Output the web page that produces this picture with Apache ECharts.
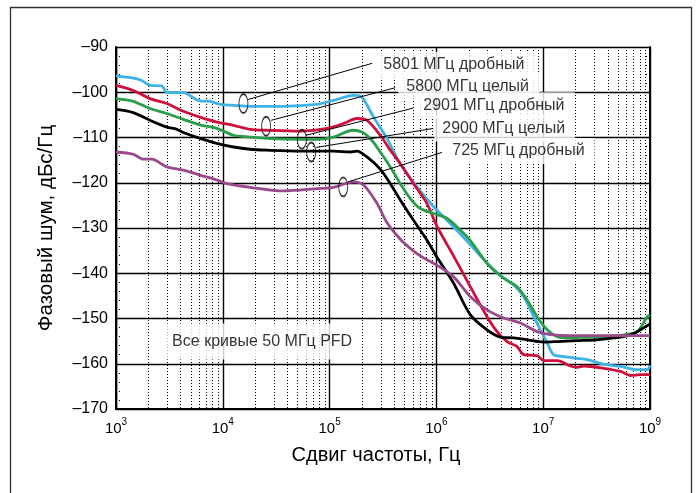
<!DOCTYPE html>
<html>
<head>
<meta charset="utf-8">
<script src="https://cdn.jsdelivr.net/npm/echarts@6/dist/echarts.min.js"></script>
<style>
html,body{margin:0;padding:0;background:#fff;}
#chart{width:698px;height:493px;}
</style>
</head>
<body>
<div id="chart"></div>
<script>
// ---- tick labels ----
const xTickValues = [1e3, 1e4, 1e5, 1e6, 1e7, 1e8];
const xTickExp = ['3', '4', '5', '6', '7', '9'];
const yMin = -170, yMax = -90, yStep = 10;

// ---- series names ----
const seriesNames = ['5801 МГц дробный', '5800 МГц целый', '2901 МГц дробный', '2900 МГц целый', '725 МГц дробный'];
const seriesColors = ['#3fb2e6', '#cf0f3c', '#2a9e4a', '#000000', '#9a4a8c'];

// ---- series values [frequency offset Hz, dBc/Hz] ----
const s5801 = [[1000,-96.4],[1450,-96.9],[1740,-97.4],[2080,-98.5],[2680,-98.6],[2990,-100.0],[4270,-100.1],[6120,-101.9],[7600,-102.0],[9440,-102.7],[12600,-102.9],[18000,-103.1],[37000,-103.1],[76000,-102.7],[109000,-101.8],[168000,-100.7],[201000,-101.1],[258000,-105.5],[344000,-110.2],[459000,-115.8],[658000,-120.9],[942000,-125.3],[1.26e6,-128.3],[2.08e6,-133.7],[2.98e6,-137.8],[3.70e6,-140.0],[5.30e6,-142.6],[6.57e6,-145.2],[8.15e6,-149.6],[9.42e6,-152.5],[1.09e7,-155.4],[1.25e7,-158.0],[1.56e7,-158.4],[2.08e7,-158.8],[2.58e7,-159.1],[3.69e7,-160.1],[5.30e7,-160.6],[7.59e7,-161.3],[9.42e7,-161.3],[1e8,-160.4]];
const s5800 = [[1000,-98.5],[1450,-99.6],[2080,-101.4],[2990,-102.5],[4270,-104.2],[6120,-105.5],[8790,-106.6],[12600,-107.3],[18000,-108.2],[25800,-108.4],[53000,-108.6],[94400,-108.0],[135000,-106.9],[180000,-105.8],[224000,-106.2],[298000,-109.5],[370000,-112.8],[459000,-115.8],[611000,-120.2],[816000,-124.6],[1.01e6,-129.6],[1.45e6,-136.2],[2.08e6,-143.0],[2.98e6,-149.6],[3.70e6,-152.9],[4.59e6,-155.1],[5.69e6,-156.2],[6.57e6,-158.0],[8.77e6,-158.2],[1.01e7,-159.3],[1.35e7,-159.3],[1.80e7,-160.5],[2.08e7,-160.8],[2.40e7,-160.5],[3.69e7,-161.0],[5.30e7,-161.7],[6.57e7,-162.6],[8.15e7,-162.4],[1e8,-162.4]];
const s2901 = [[1000,-101.4],[1450,-102.0],[2080,-103.6],[2990,-104.7],[4270,-106.0],[6120,-107.2],[8790,-108.0],[12600,-109.5],[18000,-109.9],[25800,-110.2],[53000,-110.4],[76000,-110.4],[109000,-109.9],[164000,-108.4],[201000,-108.8],[248000,-110.6],[298000,-113.2],[370000,-116.5],[459000,-120.2],[569000,-123.5],[706000,-125.7],[942000,-126.8],[1.26e6,-127.9],[1.68e6,-130.5],[2.08e6,-132.8],[2.98e6,-137.8],[4.27e6,-141.1],[5.69e6,-143.0],[7.06e6,-145.9],[8.77e6,-149.6],[1.09e7,-152.5],[1.35e7,-154.0],[1.80e7,-154.3],[2.58e7,-154.1],[3.69e7,-154.0],[5.69e7,-153.6],[7.59e7,-152.9],[9.42e7,-149.6],[1e8,-149.2]];
const s2900 = [[1000,-103.8],[1450,-104.5],[2080,-106.2],[2990,-107.7],[3710,-108.2],[4270,-108.9],[6120,-110.2],[8790,-111.3],[12600,-112.1],[18000,-112.6],[25800,-112.8],[53000,-113.0],[109000,-113.0],[156000,-113.2],[180000,-113.0],[224000,-114.3],[298000,-117.0],[370000,-120.2],[459000,-123.8],[611000,-128.3],[816000,-132.7],[1.01e6,-136.4],[1.45e6,-142.2],[2.08e6,-149.2],[2.98e6,-152.5],[3.97e6,-154.1],[5.30e6,-154.3],[7.06e6,-154.7],[1.01e7,-155.2],[1.35e7,-155.1],[2.08e7,-154.9],[3.20e7,-154.7],[4.58e7,-154.3],[6.57e7,-153.6],[8.15e7,-152.5],[1e8,-151.2]];
const s725 = [[1000,-113.2],[1450,-113.7],[1800,-114.8],[2160,-114.8],[2990,-116.5],[4270,-117.2],[6120,-118.3],[8790,-119.4],[10900,-120.2],[18000,-121.0],[37000,-121.8],[76000,-121.3],[109000,-121.0],[168000,-119.8],[208000,-120.5],[277000,-124.5],[344000,-128.8],[459000,-132.5],[611000,-135.1],[759000,-136.6],[1.01e6,-138.2],[1.45e6,-140.8],[2.08e6,-145.2],[2.98e6,-148.1],[4.27e6,-149.9],[6.11e6,-151.0],[8.77e6,-152.9],[1.25e7,-153.6],[2.58e7,-153.8],[5.30e7,-153.8],[1e8,-153.8]];
const seriesData = [s5801, s5800, s2901, s2900, s725];

// ---- annotations (data coordinates) ----
const ellipsePts = [[15600,-102.5],[25450,-107.5],[55000,-110.4],[67250,-113.2],[134100,-120.9]];
const leaderStart = [[17270,-101.6],[28360,-106.2],[60360,-109.5],[74850,-112.2],[149400,-119.8]];
const leaderEnd = [[250700,-93.6],[411900,-99.0],[607300,-103.5],[935000,-108.0],[1128000,-113.3]];
const labelPts = [[317900,-93.9],[522300,-98.7],[753800,-102.9],[1136000,-108.0],[1409000,-113.0]];
const noteText = 'Все кривые 50 МГц PFD';
const notePt = [23350, -155.1];

const xName = 'Сдвиг частоты, Гц';
const yName = 'Фазовый шум, дБс/Гц';

// minor decade gridlines 2..9 x 10^n
const minorFreqs = [];
for (let e = 3; e < 8; e++) for (let k = 2; k <= 9; k++) minorFreqs.push([k * Math.pow(10, e)]);

const FONT = '"Liberation Sans", Arial, sans-serif';

const chart = echarts.init(document.getElementById('chart'), null, {renderer: 'canvas'});

const series = [];
series.push({
  type: 'custom',
  z: 1,
  silent: true,
  data: minorFreqs,
  encode: {x: 0},
  renderItem: function (params, api) {
    const f = api.value(0);
    const p1 = api.coord([f, yMax]);
    const p2 = api.coord([f, yMin]);
    const x = Math.round(p1[0]) + 0.5;
    return {type: 'line', shape: {x1: x, y1: p1[1], x2: x, y2: p2[1]},
      style: {stroke: '#000', lineWidth: 1, lineDash: [1, 2]}};
  }
});
seriesData.forEach(function (d, i) {
  series.push({
    name: seriesNames[i], type: 'line', data: d, z: 3,
    showSymbol: false, smooth: 0.3, silent: true,
    lineStyle: {color: seriesColors[i], width: 2.8},
    itemStyle: {color: seriesColors[i]}
  });
});
leaderStart.forEach(function (p, i) {
  series.push({
    type: 'line', data: [p, leaderEnd[i]], z: 4, silent: true, showSymbol: false,
    lineStyle: {color: '#000', width: 1}
  });
});
series.push({
  type: 'scatter', z: 4, silent: true, data: ellipsePts,
  symbol: 'circle', symbolSize: [9, 19],
  itemStyle: {color: 'rgba(0,0,0,0)', borderColor: '#000', borderWidth: 1.3}
});
series.push({
  type: 'scatter', z: 6, silent: true, symbolSize: 0,
  data: labelPts.map(function (p, i) { return {value: p, name: seriesNames[i]}; }),
  label: {
    show: true, position: 'right', distance: 0, offset: [-8, 0],
    formatter: '{b}', color: '#000', fontFamily: FONT, fontSize: 16,
    backgroundColor: '#fff', padding: [5, 10, 5, 8]
  }
});
series.push({
  type: 'scatter', z: 6, silent: true, symbolSize: 0,
  data: [{value: notePt, name: noteText}],
  label: {
    show: true, position: 'inside',
    formatter: '{b}', color: '#000', fontFamily: FONT, fontSize: 16,
    backgroundColor: '#fff', padding: [11, 5, 9, 5]
  }
});

function xLabel(v) {
  const e = Math.round(Math.log10(v));
  let idx = -1;
  for (let i = 0; i < xTickValues.length; i++) if (Math.round(Math.log10(xTickValues[i])) === e) idx = i;
  if (idx < 0) return '';
  return '{b|10}{s|' + xTickExp[idx] + '}';
}

const yAxisCommon = {
  type: 'value', min: yMin, max: yMax, interval: yStep,
  axisLine: {show: true, lineStyle: {color: '#000', width: 2}},
  axisTick: {show: false, inside: true},
  minorTick: {show: true, splitNumber: 5, length: 5, lineStyle: {color: '#000', width: 1, type: [1, 2]}},
  splitLine: {show: false}
};

chart.setOption({
  animation: false,
  backgroundColor: '#fff',
  grid: {left: 116, right: 48, top: 47, bottom: 84, show: false},
  graphic: [{
    type: 'rect', z: 0, silent: true,
    shape: {x: 10.5, y: 7.5, width: 681, height: 500},
    style: {fill: 'none', stroke: '#333', lineWidth: 1.3}
  }],
  xAxis: {
    type: 'log', logBase: 10, min: 1e3, max: 1e8,
    name: xName, nameLocation: 'middle', nameGap: 36,
    nameTextStyle: {color: '#000', fontFamily: FONT, fontSize: 20, padding: [0, 14, 0, 0]},
    axisLine: {show: true, onZero: false, lineStyle: {color: '#000', width: 2}},
    axisTick: {show: false},
    axisLabel: {
      margin: 8, color: '#000', formatter: xLabel,
      rich: {
        b: {fontFamily: FONT, fontSize: 15, color: '#000', lineHeight: 19, verticalAlign: 'bottom'},
        s: {fontFamily: FONT, fontSize: 10, color: '#000', lineHeight: 19, verticalAlign: 'top'}
      }
    },
    splitLine: {show: true, lineStyle: {color: '#000', width: 1.4}},
    minorTick: {show: false}
  },
  yAxis: [
    Object.assign({}, yAxisCommon, {
      position: 'left',
      name: yName, nameLocation: 'middle', nameGap: 59, nameRotate: 90,
      nameTextStyle: {color: '#000', fontFamily: FONT, fontSize: 20.5},
      axisLabel: {margin: 8, color: '#000', fontFamily: FONT, fontSize: 16,
        formatter: function (v) { return '–' + Math.abs(v); }},
      splitLine: {show: true, lineStyle: {color: '#000', width: 1.4}}
    }),
    Object.assign({}, yAxisCommon, {
      position: 'right', axisLabel: {show: false}
    })
  ],
  series: series
});
</script>
</body>
</html>
